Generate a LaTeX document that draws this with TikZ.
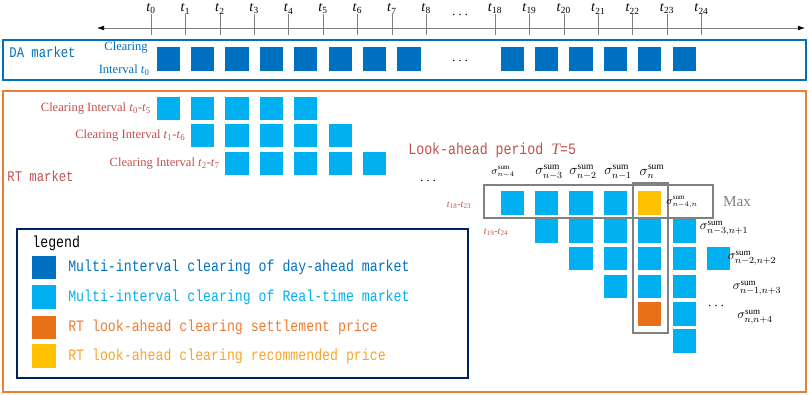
\documentclass[tikz,border=0pt]{standalone}
\usepackage{fontspec}
\setmainfont{Liberation Serif}
\newfontfamily\monofont[FakeStretch=0.83]{Liberation Mono}
\usetikzlibrary{arrows.meta, positioning}
\definecolor{dablue}{RGB}{0, 112, 192}
\definecolor{rtblue}{RGB}{0, 176, 240}
\definecolor{setorange}{RGB}{232, 112, 24}
\definecolor{recyellow}{RGB}{255, 192, 0}
\definecolor{settext}{RGB}{237, 125, 49}
\definecolor{rectext}{RGB}{250, 165, 40}
\definecolor{rtred}{RGB}{192, 80, 77}
\definecolor{rtframe}{RGB}{237, 125, 49}
\definecolor{navy}{RGB}{0, 32, 96}
\definecolor{boxgray}{RGB}{128, 128, 128}

\begin{document}
\begin{tikzpicture}[x=0.03cm, y=-0.03cm,
    dasq/.style={rectangle, fill=dablue, minimum size=0.7cm, inner sep=0pt},
    rtsq/.style={dasq, fill=rtblue},
    setsq/.style={dasq, fill=setorange},
    recsq/.style={dasq, fill=recyellow},
    monolab/.style={font=\monofont\fontsize{13.6}{16}\selectfont, inner sep=1pt},
    marketlab/.style={font=\monofont\fontsize{12.6}{15}\selectfont, inner sep=1pt},
    serlab/.style={font=\fontsize{10.7}{12}\selectfont, inner sep=1pt},
    ticklab/.style={font=\fontsize{12}{13}\selectfont, inner sep=0pt},
    siglab/.style={font=\fontsize{11.5}{13}\selectfont, inner sep=0pt},
    smallsig/.style={font=\fontsize{9}{10}\selectfont, inner sep=0pt},
    frame/.style={line width=1.7pt},
    graybox/.style={boxgray, line width=1.5pt},
    tickline/.style={gray, line width=0.4pt},
    axis/.style={{Latex[length=6pt, width=4pt, black]}-{Latex[length=6pt, width=4pt, black]},
                 gray, line width=0.5pt}
]
\useasboundingbox (0,0) rectangle (809,395);

% time axis
\coordinate (axisL) at (97,28);
\coordinate (axisR) at (805,28);
\draw [axis] (axisL) -- (axisR);
\foreach \k/\s in {0/0,1/1,2/2,3/3,4/4,5/5,6/6,7/7,8/8,18/10,19/11,20/12,21/13,22/14,23/15,24/16} {
    \node (t\k) [ticklab] at ({151+34.4*\s},9) {\textit{t}\textsubscript{\k}};
    \draw [tickline] ({151+34.4*\s},14) -- ({151+34.4*\s},35);
}
\node (axisdots) [ticklab] at (460,15) {$\cdots$};

% day-ahead market
\draw [frame, dablue] (3,40) rectangle (806,80);
\node (dalab) [marketlab, text=dablue, anchor=west] at (8,52) {DA market};
\foreach \k in {0,...,7}
    \node (da\k) [dasq] at ({151+34.4*(\k+0.5)},59) {};
\foreach \k in {18,...,23}
    \node (da\k) [dasq] at ({151+34.4*(\k-7.5)},59) {};
\node (dadots) [ticklab] at (460,61) {$\cdots$};
\node (daclear) [serlab, text=dablue, anchor=east] at (149,48) {Clearing};
\node (dainterval) [serlab, text=dablue, anchor=east] at (151,70) {Interval \textit{t}\textsubscript{0}};

% real-time market
\draw [frame, rtframe] (3,91) rectangle (806,392);
\node (rtlab) [marketlab, text=rtred, anchor=west] at (6,176) {RT market};
\foreach \r/\y in {0/108.5,1/135.5,2/163.5} {
    \foreach \k in {0,...,4}
        \node (rt\r-\k) [rtsq] at ({151+34.4*(\r+\k+0.5)},\y) {};
}
\node (rtint0) [serlab, text=rtred, left=0.12cm of rt0-0] {Clearing Interval \textit{t}\textsubscript{0}-\textit{t}\textsubscript{5}};
\node (rtint1) [serlab, text=rtred, left=0.12cm of rt1-0] {Clearing Interval \textit{t}\textsubscript{1}-\textit{t}\textsubscript{6}};
\node (rtint2) [serlab, text=rtred, left=0.12cm of rt2-0] {Clearing Interval \textit{t}\textsubscript{2}-\textit{t}\textsubscript{7}};
\node (lookahead) [monolab, text=rtred, anchor=west] at (407,150) {Look-ahead period {\rmfamily\itshape T}=5};
\node (rtdots) [ticklab] at (428,181) {$\cdots$};

% look-ahead clearing
\foreach \j/\y/\cols in {0/203/{1,2,3,4}, 1/231/{2,3,4,5,6}, 2/258.5/{3,4,5,6,7},
                         3/286.5/{4,5,6}, 4/314/{6}, 5/341/{6}} {
    \foreach \c in \cols
        \node (la\j-\c) [rtsq] at ({151+34.4*(\c+9.5)},\y) {};
}
\node (la0-5) [recsq] at ({151+34.4*14.5},203) {};
\node (la4-5) [setsq] at ({151+34.4*14.5},314) {};
\node (win18) [serlab, text=rtred, font=\fontsize{8.5}{10}\selectfont] at (459,205) {\textit{t}\textsubscript{18}-\textit{t}\textsubscript{23}};
\node (win19) [serlab, text=rtred, font=\fontsize{8.5}{10}\selectfont] at (496,232) {\textit{t}\textsubscript{19}-\textit{t}\textsubscript{24}};
\draw [graybox] (484,185) rectangle (713,218);
\draw [graybox] (633,183) rectangle (668,333);

% sigma labels
\node (sg4) [smallsig] at (503,172) {$\sigma^{\mathrm{sum}}_{n-4}$};
\node (sg3) [siglab] at (549,172) {$\sigma^{\mathrm{sum}}_{n-3}$};
\node (sg2) [siglab] at (583,172) {$\sigma^{\mathrm{sum}}_{n-2}$};
\node (sg1) [siglab] at (618,172) {$\sigma^{\mathrm{sum}}_{n-1}$};
\node (sg0) [siglab] at (652,172) {$\sigma^{\mathrm{sum}}_{n}$};
\node (sgmax) [smallsig] at (682,202) {$\sigma^{\mathrm{sum}}_{n-4,n}$};
\node (maxlab) [siglab, text=boxgray, font=\fontsize{13}{15}\selectfont] at (737,202) {Max};
\node (sgr1) [smallsig, font=\fontsize{11}{12}\selectfont] at (724,228) {$\sigma^{\mathrm{sum}}_{n-3,n+1}$};
\node (sgr2) [smallsig, font=\fontsize{11}{12}\selectfont] at (752,258) {$\sigma^{\mathrm{sum}}_{n-2,n+2}$};
\node (sgr3) [smallsig, font=\fontsize{11}{12}\selectfont] at (757,288) {$\sigma^{\mathrm{sum}}_{n-1,n+3}$};
\node (sgr4) [smallsig, font=\fontsize{11}{12}\selectfont] at (755,317) {$\sigma^{\mathrm{sum}}_{n,n+4}$};
\node (ladots) [ticklab] at (716,306) {$\cdots$};

% legend
\draw [frame, navy, line width=1.3pt] (17,229) rectangle (468,378);
\node (legtitle) [monolab, anchor=west] at (31,243) {legend};
\node (leg1) [dasq] at (44,267.5) {};
\node (leg2) [rtsq] at (44,297) {};
\node (leg3) [setsq] at (44,327.5) {};
\node (leg4) [recsq] at (44,356) {};
\node (legtext1) [monolab, text=dablue, right=0.33cm of leg1] {Multi-interval clearing of day-ahead market};
\node (legtext2) [monolab, text=rtblue, right=0.33cm of leg2] {Multi-interval clearing of Real-time market};
\node (legtext3) [monolab, text=settext, right=0.33cm of leg3] {RT look-ahead clearing settlement price};
\node (legtext4) [monolab, text=rectext, right=0.33cm of leg4] {RT look-ahead clearing recommended price};
\end{tikzpicture}
\end{document}
